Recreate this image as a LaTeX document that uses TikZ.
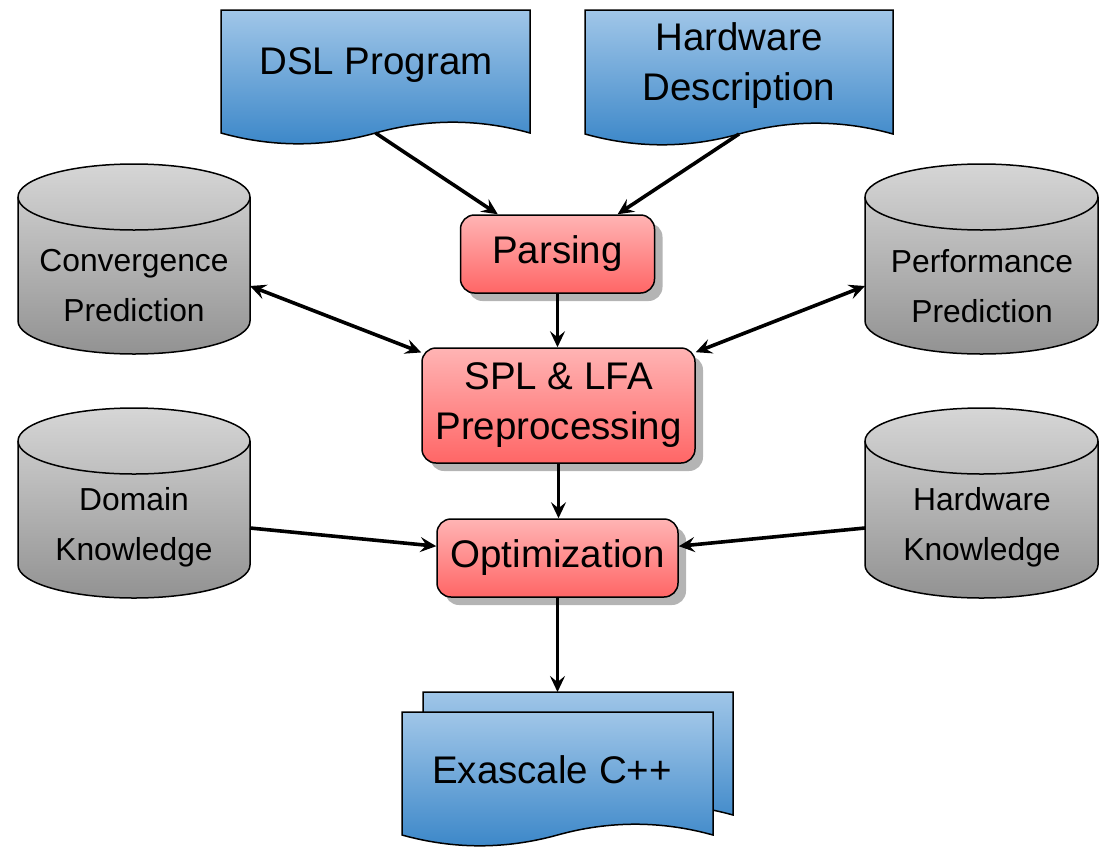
\documentclass[tikz,border=0pt]{standalone}
\usepackage{fontspec}
\setmainfont{Liberation Sans}
\usetikzlibrary{arrows.meta,shadows}

\definecolor{docTop}{RGB}{160,198,232}
\definecolor{docBot}{RGB}{58,134,200}
\definecolor{stepTop}{RGB}{255,180,180}
\definecolor{stepBot}{RGB}{255,102,102}
\definecolor{cylTop}{RGB}{214,214,214}
\definecolor{cylBot}{RGB}{146,146,146}
\definecolor{shadowGray}{RGB}{180,180,180}

\newcommand\bigfont{\fontsize{38.5}{50}\selectfont}
\newcommand\smallfont{\fontsize{31.8}{50}\selectfont}

\tikzset{
  outline/.style={draw=black, line width=1.5pt},
  docfill/.style={outline, top color=docTop, bottom color=docBot},
  cylfill/.style={outline, top color=cylTop, bottom color=cylBot},
  anchorbox/.style={rectangle, inner sep=0pt, outer sep=0pt},
  stepbox/.style={rectangle, rounded corners=14pt, outline,
    top color=stepTop, bottom color=stepBot, inner sep=0pt,
    align=center, font=\bigfont,
    drop shadow={shadow xshift=8pt, shadow yshift=-8pt, fill=shadowGray, opacity=1}},
  bigtext/.style={align=center, font=\bigfont, inner sep=0pt},
  smalltext/.style={align=center, font=\smallfont, inner sep=0pt},
  tip/.tip={Stealth[length=16pt,width=15pt,inset=6pt]},
  flow/.style={line width=3.6pt, -tip},
  dflow/.style={line width=3.6pt, tip-tip},
}

% document shape: #1 name, #2 left, #3 top, #4 right, #5 wave baseline
\newcommand\docnode[5]{%
  \pgfmathsetmacro\docW{#4-#2}%
  \pgfmathsetmacro\docH{#5-#3}%
  \pgfmathsetmacro\docM{(#2+#4)/2}%
  \pgfmathsetmacro\docS{\docW/6}%
  \path[docfill] (#2,#3) -- (#4,#3) -- (#4,#5)
    .. controls ({#4-\docS},{#5-14.4}) and ({\docM+\docS},{#5-14.4}) .. (\docM,#5)
    .. controls ({\docM-\docS},{#5+14.4}) and ({#2+\docS},{#5+14.4}) .. (#2,#5) -- cycle;
  \node[anchorbox, minimum width=\docW pt, minimum height=\docH pt]
    (#1) at (\docM,{(#3+#5)/2}) {};
}

% database cylinder: #1 name, #2 left, #3 top, #4 right, #5 bottom
\newcommand\cylnode[5]{%
  \pgfmathsetmacro\cylR{(#4-#2)/2}%
  \pgfmathsetmacro\cylH{#5-#3}%
  \path[cylfill] (#2,{#3+33}) -- (#2,{#5-33})
    arc[start angle=180, end angle=360, x radius=\cylR pt, y radius=33pt]
    -- (#4,{#3+33})
    arc[start angle=0, end angle=180, x radius=\cylR pt, y radius=33pt] -- cycle;
  \draw[outline] (#2,{#3+33})
    arc[start angle=180, end angle=360, x radius=\cylR pt, y radius=33pt];
  \node[anchorbox, minimum width={2*\cylR pt}, minimum height=\cylH pt]
    (#1) at ({(#2+#4)/2},{(#3+#5)/2}) {};
}

\begin{document}
\begin{tikzpicture}[x=1pt, y=-1pt]
\path[use as bounding box] (0,0) rectangle (1105,846);

% inputs
\docnode{dsl}{221}{10}{530}{133}
\docnode{hwdesc}{585}{10}{893}{134}
\node[bigtext] (dsltext) at (376,65) {DSL Program};
\node[bigtext] (hwtext) at (739,66) {Hardware\\Description};

% knowledge bases
\cylnode{conv}{18}{164}{250}{354}
\cylnode{perf}{865}{164}{1098}{354}
\cylnode{dom}{18}{408}{250}{598}
\cylnode{hwk}{865}{408}{1098}{598}
\node[smalltext] (convtext) at (134,286) {Convergence\\Prediction};
\node[smalltext] (perftext) at (982,286) {Performance\\Prediction};
\node[smalltext] (domtext) at (134,527) {Domain\\Knowledge};
\node[smalltext] (hwktext) at (982,527) {Hardware\\Knowledge};

% processing stages
\node[stepbox, minimum width=194pt, minimum height=78pt] (parse) at (557.5,254) {Parsing};
\node[stepbox, minimum width=273pt, minimum height=115pt] (spl) at (558.5,405.5) {SPL \& LFA\\Preprocessing};
\node[stepbox, minimum width=241pt, minimum height=78pt] (opt) at (557.5,558) {Optimization};

% generated code
\docnode{exaback}{423}{692}{733}{815}
\docnode{exa}{402}{712}{713}{835}
\node[bigtext] (exatext) at (552,770) {Exascale C++};

% connectors
\draw[flow] (dsl.south) -- (parse);
\draw[flow] (hwdesc.south) -- (parse);
\draw[flow] (parse.south) -- (parse.south |- spl.north);
\draw[dflow] ([yshift=-27pt]conv.east) -- (spl);
\draw[dflow] ([yshift=-27pt]perf.west) -- (spl);
\draw[flow] (spl.south) -- (spl.south |- opt.north);
\draw[flow] ([yshift=-25pt]dom.east) -- (opt);
\draw[flow] ([yshift=-25pt]hwk.west) -- (opt);
\draw[flow] (opt.south) -- (opt.south |- exaback.north);
\end{tikzpicture}
\end{document}
